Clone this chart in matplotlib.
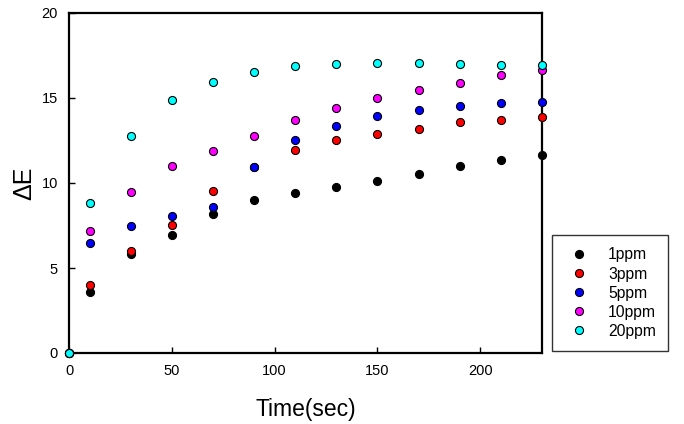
import numpy as np
from matplotlib import pyplot as plt

plt.rcParams['font.family'] = ['Liberation Sans', 'DejaVu Sans']

# time points (sec)
time = [0, 10, 30, 50, 70, 90, 110, 130, 150, 170, 190, 210, 230]

# delta E for each concentration
de_1ppm = [0, 3.59, 5.82, 6.96, 8.19, 9.02, 9.43, 9.78, 10.1, 10.55, 11.0, 11.37, 11.65]
de_3ppm = [0, 4.02, 6.02, 7.55, 9.55, 10.92, 11.96, 12.55, 12.9, 13.2, 13.6, 13.7, 13.9]
de_5ppm = [0, 6.49, 7.49, 8.08, 8.57, 10.92, 12.55, 13.37, 13.96, 14.31, 14.55, 14.7, 14.78]
de_10ppm = [0, 7.19, 9.45, 11.0, 11.9, 12.76, 13.72, 14.43, 14.98, 15.47, 15.9, 16.37, 16.66]
de_20ppm = [0, 8.84, 12.76, 14.9, 15.96, 16.55, 16.9, 17.02, 17.08, 17.08, 17.02, 16.96, 16.96]

labels = ['1ppm', '3ppm', '5ppm', '10ppm', '20ppm']
colors = ['#000000', '#ff0000', '#0000ff', '#ff00ff', '#00ffff']
series = [de_1ppm, de_3ppm, de_5ppm, de_10ppm, de_20ppm]

fig = plt.figure(figsize=(6.84, 4.24), dpi=100)
ax = fig.add_axes([69/684, 1-353/424, 473/684, 340/424])

for vals, c, lab in zip(series, colors, labels):
    ax.plot(time, vals, 'o', color=c, markeredgecolor='black',
            markeredgewidth=0.8, markersize=5.8, label=lab,
            clip_on=False, zorder=3)

ax.set_xlim(0, 230)
ax.set_ylim(0, 20)
ax.set_xticks([0, 50, 100, 150, 200])
ax.set_yticks([0, 5, 10, 15, 20])
ax.tick_params(direction='in', length=4, width=1, labelsize=10.5,
               top=False, right=False, pad=8)
for sp in ax.spines.values():
    sp.set_linewidth(1.6)

ax.set_xlabel('Time(sec)', fontsize=16.5, labelpad=14)
ax.set_ylabel('ΔE', fontsize=18, labelpad=4)

leg = fig.legend(loc='lower left', bbox_to_anchor=(552/684, 1-351/424),
                 fontsize=11.3, frameon=True, fancybox=False,
                 borderpad=0.78, labelspacing=0.26, handletextpad=0.9,
                 handlelength=1.9, borderaxespad=0)
leg.get_frame().set_edgecolor('black')
leg.get_frame().set_linewidth(1.0)

plt.savefig('out.png', dpi=100)
